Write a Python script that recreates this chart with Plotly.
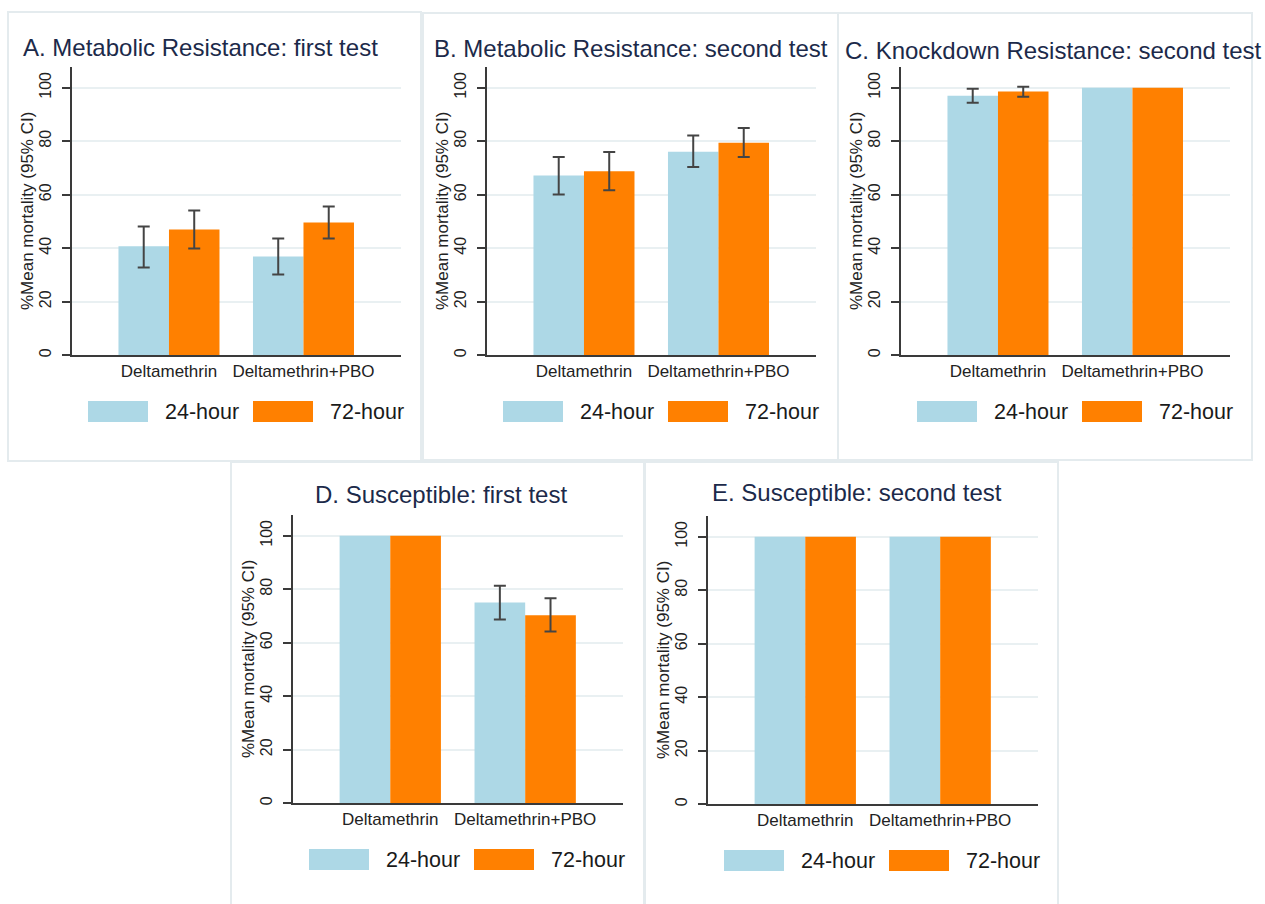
import plotly.graph_objects as go

W, H = 1265, 904

# ---------------- data ----------------
categories = ["Deltamethrin", "Deltamethrin+PBO"]
series_names = ["24-hour", "72-hour"]
y_tick_values = [0, 20, 40, 60, 80, 100]
y_axis_title = "%Mean mortality (95% CI)"

titles = [
    "A. Metabolic Resistance: first test",
    "B. Metabolic Resistance: second test",
    "C. Knockdown Resistance: second test",
    "D. Susceptible: first test",
    "E. Susceptible: second test",
]

# Panel A
a_24_mean = [40.7, 36.9]
a_24_low = [32.8, 30.2]
a_24_high = [48.1, 43.6]
a_72_mean = [47.0, 49.6]
a_72_low = [39.9, 43.6]
a_72_high = [54.1, 55.6]

# Panel B
b_24_mean = [67.2, 76.1]
b_24_low = [60.1, 70.4]
b_24_high = [74.1, 82.1]
b_72_mean = [68.8, 79.4]
b_72_low = [61.7, 74.1]
b_72_high = [76.0, 84.9]

# Panel C
c_24_mean = [97.0, 100.0]
c_24_low = [94.4, None]
c_24_high = [99.6, None]
c_72_mean = [98.6, 100.0]
c_72_low = [96.6, None]
c_72_high = [100.4, None]

# Panel D
d_24_mean = [100.0, 75.0]
d_24_low = [None, 68.7]
d_24_high = [None, 81.3]
d_72_mean = [100.0, 70.3]
d_72_low = [None, 64.2]
d_72_high = [None, 76.6]

# Panel E
e_24_mean = [100.0, 100.0]
e_24_low = [None, None]
e_24_high = [None, None]
e_72_mean = [100.0, 100.0]
e_72_low = [None, None]
e_72_high = [None, None]

panels_data = [
    ((a_24_mean, a_24_low, a_24_high), (a_72_mean, a_72_low, a_72_high)),
    ((b_24_mean, b_24_low, b_24_high), (b_72_mean, b_72_low, b_72_high)),
    ((c_24_mean, c_24_low, c_24_high), (c_72_mean, c_72_low, c_72_high)),
    ((d_24_mean, d_24_low, d_24_high), (d_72_mean, d_72_low, d_72_high)),
    ((e_24_mean, e_24_low, e_24_high), (e_72_mean, e_72_low, e_72_high)),
]

# ---------------- layout geometry (pixels) ----------------
geom = [
    dict(ax=72, ar=401, y0=356, yt=67, tx=200, ty=48, box=(8, 12, 421, 462)),
    dict(ax=487, ar=816, y0=356, yt=67, tx=631, ty=49, box=(423, 13, 838, 461)),
    dict(ax=901, ar=1230, y0=356, yt=67, tx=1053, ty=51, box=(838, 13, 1252, 461)),
    dict(ax=293, ar=623, y0=805, yt=516, tx=441, ty=496, box=(231, 463, 645, 912)),
    dict(ax=708, ar=1038, y0=806, yt=517, tx=857, ty=494, box=(644, 463, 1058, 912)),
]
YMAX = 107.8
XRANGE = [-0.721, 1.725]

colors = ["#ADD8E6", "#FF8000"]
FONT = "Liberation Sans, Arial, sans-serif"
TITLE_COLOR = "#1c2a4a"
TEXT_COLOR = "#222222"
AXIS_COLOR = "#3a3a3a"
GRID_COLOR = "#e9f0f2"
BOX_COLOR = "#e4ebee"


def px_x(x):
    return x / W


def px_y(y):
    return 1 - y / H


fig = go.Figure()
layout = dict(
    width=W, height=H,
    margin=dict(l=0, r=0, t=0, b=0),
    paper_bgcolor="white", plot_bgcolor="white",
    barmode="group", bargap=0.249, bargroupgap=0,
    showlegend=False,
    font=dict(family=FONT, color=TEXT_COLOR),
)
shapes = []
annotations = []

for i, (pdata, g) in enumerate(zip(panels_data, geom)):
    n = "" if i == 0 else str(i + 1)
    xa, ya = "x" + n, "y" + n
    for s, (mean, low, high) in enumerate(pdata):
        has_ci = [l is not None and h is not None for l, h in zip(low, high)]
        # bars with confidence interval
        y_ci = [m if c else None for m, c in zip(mean, has_ci)]
        plus = [h - m if c else 0 for m, h, c in zip(mean, high, has_ci)]
        minus = [m - l if c else 0 for m, l, c in zip(mean, low, has_ci)]
        # bars without confidence interval (e.g. 100% mortality)
        y_noci = [None if c else m for m, c in zip(mean, has_ci)]
        common = dict(x=categories, name=series_names[s],
                      marker=dict(color=colors[s], line=dict(width=0)),
                      xaxis=xa, yaxis=ya, showlegend=False,
                      offsetgroup=str(s), alignmentgroup="p" + str(i))
        if any(has_ci):
            fig.add_trace(go.Bar(
                y=y_ci,
                error_y=dict(type="data", array=plus, arrayminus=minus, symmetric=False,
                             color="#444444", thickness=2, width=6),
                **common))
        if not all(has_ci):
            fig.add_trace(go.Bar(y=y_noci, **common))
    layout["xaxis" + n] = dict(
        domain=[px_x(g["ax"]), px_x(g["ar"])], anchor=ya,
        type="category", range=XRANGE, showgrid=False, zeroline=False,
        showline=True, linecolor=AXIS_COLOR, linewidth=1.5, ticks="",
        tickfont=dict(size=17, color=TEXT_COLOR, family=FONT),
        ticklabelstandoff=0, fixedrange=True,
    )
    layout["yaxis" + n] = dict(
        domain=[px_y(g["y0"]), px_y(g["yt"])], anchor=xa,
        range=[0, YMAX], tickvals=y_tick_values, tickangle=-90,
        ticks="outside", ticklen=8, tickwidth=1.5, tickcolor=AXIS_COLOR,
        showline=True, linecolor=AXIS_COLOR, linewidth=1.5,
        showgrid=True, gridcolor=GRID_COLOR, gridwidth=1.5, zeroline=False,
        tickfont=dict(size=16, color=TEXT_COLOR, family=FONT),
        ticklabelstandoff=5, fixedrange=True,
    )
    # panel border
    bx0, by0, bx1, by1 = g["box"]
    shapes.append(dict(type="rect", xref="paper", yref="paper",
                       x0=px_x(bx0), x1=px_x(bx1), y0=px_y(by1), y1=px_y(by0),
                       line=dict(color=BOX_COLOR, width=2), layer="below"))
    # title
    annotations.append(dict(text=titles[i], xref="paper", yref="paper",
                            x=px_x(g["tx"]), y=px_y(g["ty"]), xanchor="center", yanchor="middle",
                            showarrow=False, font=dict(size=24, color=TITLE_COLOR, family=FONT)))
    # y axis title
    annotations.append(dict(text=y_axis_title, xref="paper", yref="paper",
                            x=px_x(g["ax"] - 45), y=px_y((g["y0"] + g["yt"]) / 2),
                            xanchor="center", yanchor="middle", textangle=-90,
                            showarrow=False, font=dict(size=17, color=TEXT_COLOR, family=FONT)))
    # legend
    ly0, ly1 = g["y0"] + 46, g["y0"] + 67
    for s in range(2):
        sx0 = g["ax"] + 16 + 165 * s
        shapes.append(dict(type="rect", xref="paper", yref="paper",
                           x0=px_x(sx0), x1=px_x(sx0 + 60), y0=px_y(ly1), y1=px_y(ly0),
                           fillcolor=colors[s], line=dict(width=0)))
        annotations.append(dict(text=series_names[s], xref="paper", yref="paper",
                                x=px_x(sx0 + 75), y=px_y((ly0 + ly1) / 2),
                                xanchor="left", yanchor="middle", showarrow=False,
                                font=dict(size=21.5, color="#1a1a1a", family=FONT)))

layout["shapes"] = shapes
layout["annotations"] = annotations
fig.update_layout(**layout)
fig.write_html("out.html", config={"displayModeBar": False},
               post_script="document.body.style.margin='0px';")
